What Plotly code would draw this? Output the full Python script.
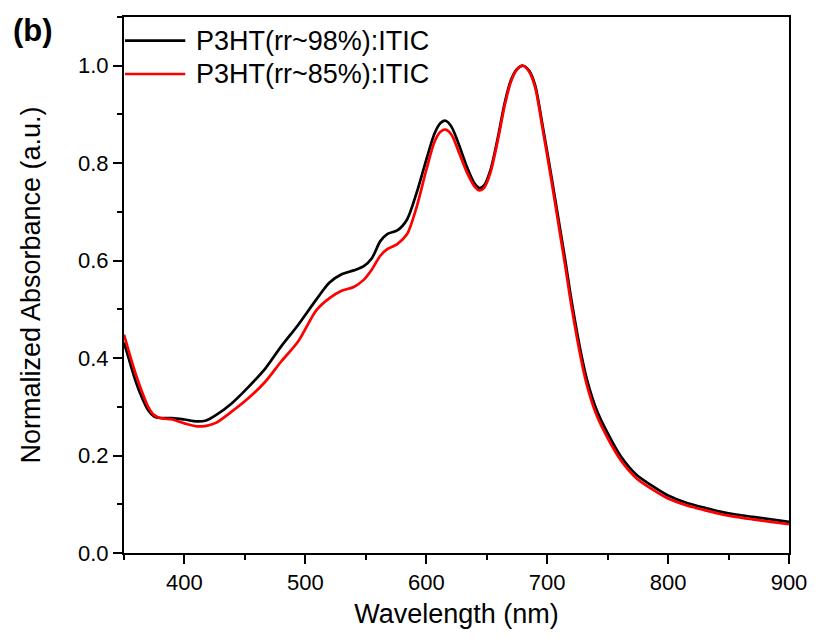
import plotly.graph_objects as go

wl_black = [350, 355, 360, 365, 370, 375, 380, 390, 400, 410, 418, 426, 439, 453, 467, 480, 494,
            509, 520, 530, 540, 548, 555, 562, 568, 576, 584, 592, 600, 607, 612, 616, 621, 627,
            634, 640, 644, 648, 653, 659, 665, 670, 675, 680, 685, 690, 696, 703, 709, 715, 720,
            728, 733, 741, 750, 761, 774, 788, 800, 815, 830, 843, 856, 870, 885, 900]
abs_black = [0.432, 0.39, 0.35, 0.318, 0.293, 0.28, 0.277, 0.277, 0.274, 0.270, 0.272, 0.283, 0.307,
             0.341, 0.379, 0.424, 0.468, 0.52, 0.555, 0.572, 0.580, 0.588, 0.605, 0.640, 0.655,
             0.662, 0.684, 0.739, 0.807, 0.862, 0.883, 0.887, 0.874, 0.838, 0.790, 0.758, 0.749,
             0.755, 0.785, 0.850, 0.925, 0.970, 0.993, 1.0, 0.990, 0.960, 0.880, 0.78, 0.69, 0.6,
             0.52, 0.41, 0.355, 0.293, 0.246, 0.198, 0.160, 0.136, 0.118, 0.103, 0.093, 0.085,
             0.079, 0.074, 0.069, 0.064]

wl_red = wl_black
abs_red = [0.448, 0.405, 0.365, 0.33, 0.30, 0.283, 0.277, 0.274, 0.266, 0.260, 0.261, 0.267, 0.290,
           0.318, 0.352, 0.393, 0.434, 0.498, 0.523, 0.538, 0.546, 0.560, 0.582, 0.610, 0.624,
           0.634, 0.654, 0.71, 0.786, 0.845, 0.865, 0.869, 0.858, 0.822, 0.779, 0.752, 0.744,
           0.750, 0.780, 0.845, 0.920, 0.967, 0.992, 1.0, 0.988, 0.956, 0.874, 0.772, 0.68, 0.588,
           0.508, 0.398, 0.343, 0.282, 0.236, 0.19, 0.153, 0.129, 0.112, 0.098, 0.088, 0.080,
           0.074, 0.069, 0.064, 0.059]

series_names = ["P3HT(rr~98%):ITIC", "P3HT(rr~85%):ITIC"]
series_colors = ["#000000", "#ff0000"]
x_ticks = [400, 500, 600, 700, 800, 900]
y_ticks = [0.0, 0.2, 0.4, 0.6, 0.8, 1.0]

FONT = "Arial, Liberation Sans, sans-serif"

fig = go.Figure()
fig.add_trace(go.Scatter(x=wl_black, y=abs_black, mode="lines", name=series_names[0],
                         line=dict(color=series_colors[0], width=2.7, shape="spline", smoothing=0.8),
                         showlegend=False))
fig.add_trace(go.Scatter(x=wl_red, y=abs_red, mode="lines", name=series_names[1],
                         line=dict(color=series_colors[1], width=2.7, shape="spline", smoothing=0.8),
                         showlegend=False))

# manual legend (Origin-style long line samples)
leg_y = [0.9558, 0.8937]
for i in range(2):
    fig.add_shape(type="line", xref="paper", yref="paper", x0=0.0015, x1=0.0921,
                  y0=leg_y[i], y1=leg_y[i], line=dict(color=series_colors[i], width=2.7))
    fig.add_annotation(xref="paper", yref="paper", x=0.1055, y=leg_y[i], text=series_names[i],
                       showarrow=False, xanchor="left", yanchor="middle",
                       font=dict(family=FONT, size=27, color="black"))

fig.add_annotation(xref="paper", yref="paper", x=-0.170, y=0.974, text="<b>(b)</b>",
                   showarrow=False, xanchor="left", yanchor="middle",
                   font=dict(family=FONT, size=31, color="black"))

fig.update_layout(
    width=819, height=639,
    margin=dict(l=124, r=22, t=17, b=86),
    paper_bgcolor="white", plot_bgcolor="white",
    font=dict(family=FONT, size=22, color="black"),
)
fig.update_xaxes(
    range=[350, 900], tickvals=x_ticks, ticks="outside", ticklen=9, tickwidth=2, tickcolor="black",
    showline=True, linewidth=2, linecolor="black", mirror=True, showgrid=False, zeroline=False,
    minor=dict(dtick=50, tick0=350, ticks="outside", ticklen=5, tickwidth=2, tickcolor="black"),
    tickfont=dict(family=FONT, size=22),
    title=dict(text="Wavelength (nm)", font=dict(family=FONT, size=27), standoff=10),
)
fig.update_yaxes(
    range=[0, 1.1], tickvals=y_ticks, tickformat=".1f", ticks="outside", ticklen=9, tickwidth=2,
    tickcolor="black", showline=True, linewidth=2, linecolor="black", mirror=True, showgrid=False,
    zeroline=False,
    minor=dict(dtick=0.1, tick0=0, ticks="outside", ticklen=5, tickwidth=2, tickcolor="black"),
    tickfont=dict(family=FONT, size=22),
    title=dict(text="Normalized Absorbance (a.u.)", font=dict(family=FONT, size=27), standoff=30),
)

fig.write_html("out.html")
